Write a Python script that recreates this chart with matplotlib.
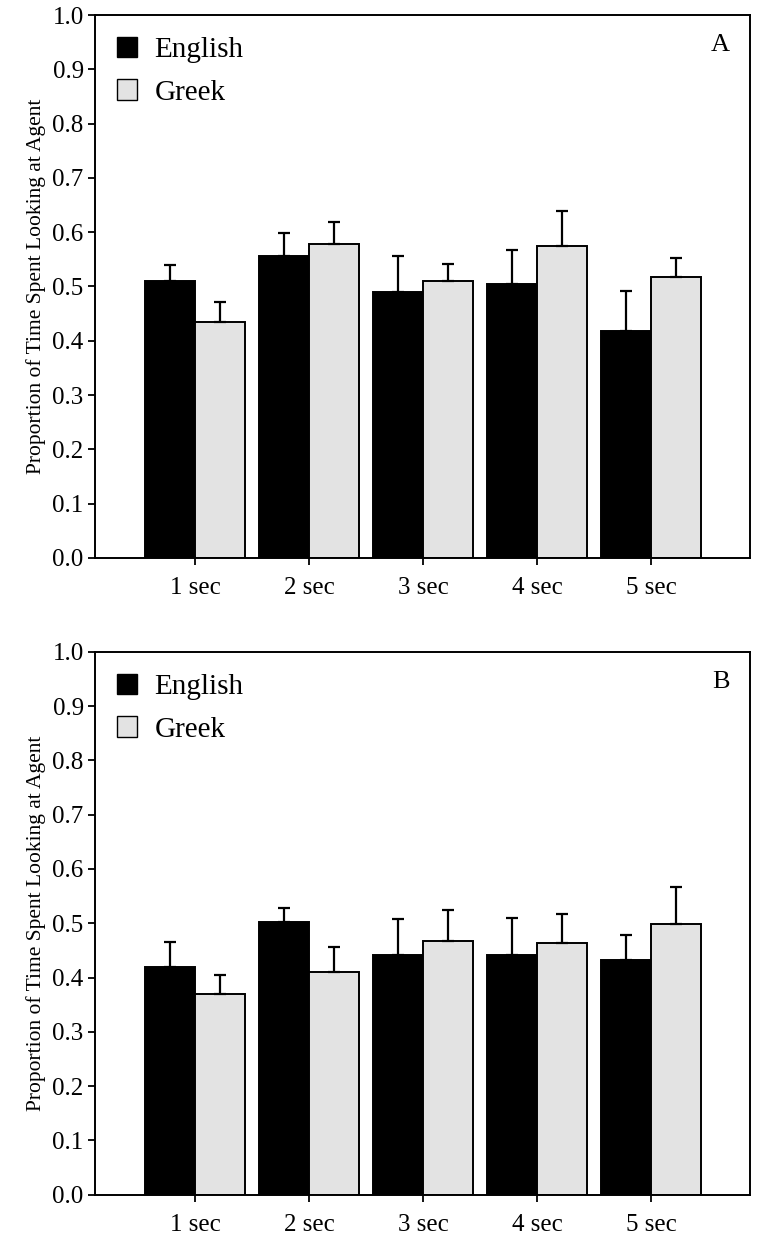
import numpy as np
import matplotlib.pyplot as plt
from matplotlib.patches import Patch

plt.rcParams['font.family'] = ['Liberation Serif', 'DejaVu Serif']

categories = ['1 sec', '2 sec', '3 sec', '4 sec', '5 sec']

# panel A
eng_a = [0.510, 0.556, 0.490, 0.505, 0.418]
eng_a_top = [0.540, 0.599, 0.556, 0.567, 0.492]
grk_a = [0.434, 0.578, 0.510, 0.575, 0.518]
grk_a_top = [0.472, 0.618, 0.541, 0.639, 0.552]

# panel B
eng_b = [0.420, 0.502, 0.442, 0.442, 0.433]
eng_b_top = [0.465, 0.528, 0.508, 0.510, 0.479]
grk_b = [0.370, 0.410, 0.467, 0.463, 0.498]
grk_b_top = [0.404, 0.456, 0.525, 0.517, 0.567]

gray = '#e3e3e3'
w = 0.44

fig = plt.figure(figsize=(7.71, 12.51), dpi=100)
ax_a = fig.add_axes([0.123, 0.554, 0.850, 0.434])
ax_b = fig.add_axes([0.123, 0.045, 0.850, 0.434])


def draw(ax, eng, eng_top, grk, grk_top, tag):
    x = np.arange(1, len(categories) + 1)
    eng = np.array(eng)
    grk = np.array(grk)
    e_err = [np.zeros(len(eng)), np.array(eng_top) - eng]
    g_err = [np.zeros(len(grk)), np.array(grk_top) - grk]
    ekw = dict(elinewidth=1.6, capthick=1.6, ecolor='black')
    ax.bar(x - w / 2, eng, w, color='black', edgecolor='black', linewidth=1.4,
           yerr=e_err, capsize=4, error_kw=ekw, zorder=2)
    ax.bar(x + w / 2, grk, w, color=gray, edgecolor='black', linewidth=1.4,
           yerr=g_err, capsize=4, error_kw=ekw, zorder=2)
    ax.set_xlim(0.12, 5.87)
    ax.set_ylim(0, 1.0)
    ax.set_yticks(np.arange(0, 1.01, 0.1))
    ax.set_yticklabels(['%.1f' % v for v in np.arange(0, 1.01, 0.1)])
    ax.set_xticks(x)
    ax.set_xticklabels(categories)
    ax.tick_params(axis='both', direction='out', length=5, width=1.3, labelsize=18)
    ax.tick_params(axis='x', pad=9)
    ax.tick_params(axis='y', pad=3)
    for s in ax.spines.values():
        s.set_linewidth(1.4)
    ax.set_ylabel('Proportion of Time Spent Looking at Agent', fontsize=15.5, labelpad=5)
    handles = [Patch(facecolor='black', edgecolor='black', label='English'),
               Patch(facecolor=gray, edgecolor='black', label='Greek')]
    ax.legend(handles=handles, loc='upper left', frameon=False, fontsize=21,
              handlelength=0.7, handleheight=0.7, handletextpad=0.6,
              labelspacing=0.55, borderaxespad=0.35)
    ax.text(0.955, 0.945, tag, transform=ax.transAxes, fontsize=19,
            ha='center', va='center')


draw(ax_a, eng_a, eng_a_top, grk_a, grk_a_top, 'A')
draw(ax_b, eng_b, eng_b_top, grk_b, grk_b_top, 'B')

fig.savefig('out.png', dpi=100)
